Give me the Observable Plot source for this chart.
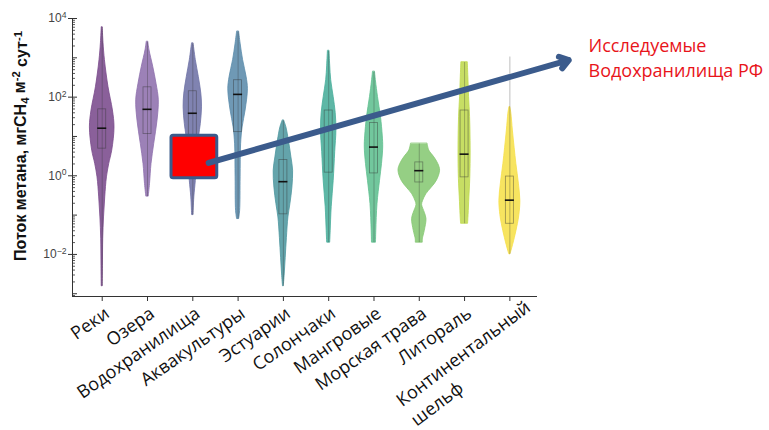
<!DOCTYPE html>
<html><head><meta charset="utf-8">
<script src="https://cdn.jsdelivr.net/npm/d3@7"></script>
<script src="https://cdn.jsdelivr.net/npm/@observablehq/plot@0.6"></script>
<style>body{margin:0;background:#fff}</style>
</head><body><div id="chart"></div>
<script>
// ---- data (log10 of flux, mg CH4 m-2 d-1) ----
const categories = ["Реки","Озера","Водохранилища","Аквакультуры","Эстуарии","Солончаки","Мангровые","Морская трава","Литораль","Континентальный\nшельф"];
const colors = ["#7a4a8c","#8e70ad","#6e72a6","#5b8bab","#4e979f","#48ad9a","#5fbf8f","#86c873","#bfd94e","#f6e04a"];
// violin profiles: [log10 flux, density (half-width)]
const rekiProfile = [[3.77,0.5],[3.37,1.3],[2.94,2.7],[2.25,6.3],[1.66,10.7],[1.23,12.3],[0.64,10],[0.3,7],[-0.04,4.7],[-0.55,3],[-1.06,1.8],[-1.6,1],[-2.3,0.7],[-2.81,0.5]];
const ozeraProfile = [[3.40,0.8],[3.19,2],[2.77,5.7],[2.34,9],[1.92,11.3],[1.40,10],[0.81,6.7],[0.3,4],[-0.21,2.5],[-0.53,1.2]];
const vodoProfile = [[3.36,0.8],[2.94,3],[2.51,6],[2.09,8.5],[1.74,9.2],[1.32,8],[1.0,6.3],[0.5,4.5],[-0.13,3],[-0.55,1.5],[-1.0,0.7]];
const akvaProfile = [[3.66,1],[3.36,2.5],[2.94,5],[2.51,8.5],[2.2,9.8],[1.66,7.5],[1.23,4.5],[0.8,3],[-0.04,2.5],[-0.9,2],[-1.1,1]];
const estuProfile = [[1.40,0.8],[1.23,3],[0.89,5.5],[0.47,8],[0.13,9.7],[-0.3,9],[-0.72,7],[-1.06,5],[-1.58,3.5],[-2.09,2.3],[-2.51,1.3],[-2.81,0.4]];
const solonProfile = [[3.17,0.8],[2.8,1.5],[2.43,2.5],[2.0,5],[1.6,7],[1.15,7.7],[0.6,6.5],[-0.13,5],[-0.8,3],[-1.4,2],[-1.7,1.5]];
const mangrProfile = [[2.64,1],[2.4,2],[2.0,4],[1.49,7],[1.0,8.8],[0.72,9.2],[0.3,8],[-0.13,6],[-0.72,3.5],[-1.4,2.3],[-1.7,2]];
const seagrassProfile = [[0.81,8.3],[0.64,10],[0.47,15],[0.3,19],[0.13,20.8],[-0.13,17.5],[-0.3,12.5],[-0.47,7],[-0.64,3.8],[-0.74,2.8],[-0.94,5.5],[-1.1,7.2],[-1.4,5.5],[-1.62,3.5],[-1.7,3.5]];
const litoralProfile = [[2.88,3.2],[2.5,3.8],[2.0,4.5],[1.5,5.5],[0.89,6],[0.3,6],[-0.2,5.5],[-0.55,4.8],[-1.0,4],[-1.22,3.5]];
const shelfProfile = [[1.74,0.5],[1.58,1.5],[1.15,3],[0.7,4.8],[0.3,6.5],[-0.2,9],[-0.64,10.5],[-1.0,9.5],[-1.23,8],[-1.58,5],[-1.92,1.5],[-2.0,0.5]];
const profiles = [rekiProfile, ozeraProfile, vodoProfile, akvaProfile, estuProfile, solonProfile, mangrProfile, seagrassProfile, litoralProfile, shelfProfile];
const boxQ1     = [0.69, 1.06, 1.02, 1.11, -0.98, 0.08, 0.06, -0.17, -0.04, -1.22];
const boxQ3     = [1.69, 2.25, 2.15, 2.43,  0.40, 1.66, 1.34,  0.34,  1.66, -0.02];
const boxMedian = [1.21, 1.69, 1.59, 2.07, -0.15, 1.20, 0.73,  0.13,  0.55, -0.62];
const whiskerLow  = [-2.81, -0.53, -1.0, -1.1, -2.81, -1.7, -1.7, -1.7, -1.22, -2.0];
const whiskerHigh = [ 3.77,  3.40, 3.36, 3.66,  1.40, 3.17, 2.64, 0.81,  2.88,  3.02];
const yLabelExp = [-2, 0, 2, 4];
const yDecadeExp = [-3, -2, -1, 0, 1, 2, 3, 4];
const noteText = "Исследуемые\nВодохранилища РФ";
// annotation (data units): highlighted box and arrow
const markBox = {x1: 1.53, x2: 2.54, y1: 10 ** -0.06, y2: 10 ** 1.02};
const markArrow = {x1: 2.35, y1: 10 ** 0.33, x2: 10.3, y2: 10 ** 2.94};

// ---- layout ----
const W = 769, H = 430, mL = 72, mR = 232, mT = 18, mB = 134;
const xDomain = [-0.656, 9.61];
const yDomain = [10 ** -3.07, 1e4];
const unitPx = (W - mL - mR) / (xDomain[1] - xDomain[0]);
const px = v => v / unitPx;

const idx = d3.range(categories.length);
const violinData = profiles.flatMap((p, i) => p.map(([lv, w]) => ({i, y: 10 ** lv, w})));
const stats = idx.map(i => ({i, q1: 10 ** boxQ1[i], q3: 10 ** boxQ3[i], med: 10 ** boxMedian[i], lo: 10 ** whiskerLow[i], hi: 10 ** whiskerHigh[i]}));
const minorTicks = [];
for (let e = -4; e <= 3; e++) for (let m = 2; m <= 9; m++) { const v = m * 10 ** e; if (v >= yDomain[0] && v <= yDomain[1]) minorTicks.push(v); }

const ruFont = "'Open Sans', 'Noto Sans', 'DejaVu Sans', sans-serif";
const rot = -35;

const svg = Plot.plot({
  width: W, height: H,
  marginLeft: mL, marginRight: mR, marginTop: mT, marginBottom: mB,
  style: {fontFamily: "'Liberation Sans', Arial, sans-serif", background: "#fff", overflow: "visible"},
  x: {type: "linear", domain: xDomain, axis: null},
  y: {type: "log", domain: yDomain, axis: null},
  marks: [
    Plot.areaX(violinData, {y: "y", x1: d => d.i - px(d.w), x2: d => d.i + px(d.w), z: "i",
      fill: d => colors[d.i], stroke: d => colors[d.i], strokeWidth: 0.8, fillOpacity: 0.88, curve: "catmull-rom"}),
    Plot.ruleX(stats, {x: "i", y1: "lo", y2: "hi", stroke: "#333", strokeOpacity: 0.45, strokeWidth: 0.7}),
    Plot.rect(stats, {x1: d => d.i - px(4), x2: d => d.i + px(4), y1: "q1", y2: "q3", fill: "none", stroke: "#333", strokeOpacity: 0.5, strokeWidth: 0.8}),
    Plot.ruleY(stats, {y: "med", x1: d => d.i - px(4.5), x2: d => d.i + px(4.5), stroke: "#111", strokeWidth: 1.6}),
    // axes
    Plot.ruleX([xDomain[0]], {stroke: "#333", strokeWidth: 1}),
    Plot.ruleY([yDomain[0]], {stroke: "#333", strokeWidth: 1}),
    Plot.axisX({ticks: idx, tickSize: 5, tickFormat: () => "", label: null, stroke: "#333"}),
    Plot.axisY({ticks: yLabelExp.map(e => 10 ** e), tickSize: 4, tickPadding: 2, tickFormat: d => "10^" + Math.round(Math.log10(d)),
      label: null, fontSize: 12, fill: "#444", stroke: "#333"}),
    Plot.axisY({ticks: yDecadeExp.map(e => 10 ** e), tickSize: 5, dx: 5, tickFormat: () => "", label: null, stroke: "#333"}),
    Plot.axisY({ticks: minorTicks, tickSize: 3, dx: 3, tickFormat: () => "", label: null, stroke: "#333", strokeOpacity: 0.8}),
    // category labels
    Plot.text(idx.slice(0, 9), {x: d => d, text: d => categories[d], frameAnchor: "bottom", dx: 5, dy: 15,
      rotate: rot, textAnchor: "end", lineAnchor: "middle", fontSize: 18, fontFamily: ruFont, fill: "#111"}),
    Plot.text([9], {x: d => d, text: d => categories[d], frameAnchor: "bottom", dx: -118, dy: 97,
      rotate: -37, textAnchor: "start", lineAnchor: "top", lineHeight: 1.35, fontSize: 18, fontFamily: ruFont, fill: "#111"}),
    // annotation
    Plot.rect([markBox], {x1: "x1", x2: "x2", y1: "y1", y2: "y2", fill: "#ff0000", stroke: "#3b5b8c", strokeWidth: 3, rx: 2}),
    Plot.arrow([markArrow], {x1: "x1", y1: "y1", x2: "x2", y2: "y2", stroke: "#3b5b8c", strokeWidth: 6, headLength: 2.6, headAngle: 70}),
    Plot.text([noteText], {frameAnchor: "top-right", dx: 51, dy: 16, textAnchor: "start", lineAnchor: "top",
      lineHeight: 1.39, fontSize: 18, fontFamily: ruFont, fill: "#e8141a"})
  ]
});

// superscript exponents in y tick labels
d3.select(svg).selectAll("text").each(function() {
  const t = this.textContent;
  const m = /^10\^(-?\d+)$/.exec(t);
  if (m) {
    const s = d3.select(this);
    s.text("10");
    s.append("tspan").attr("dy", "-0.5em").attr("font-size", "0.72em").text(m[1].replace("-", "\u2212"));
  }
});

// y axis title with sub/superscripts
const yt = d3.select(svg).append("text")
  .attr("transform", "translate(26,146) rotate(-90)")
  .attr("text-anchor", "middle")
  .attr("font-family", "'Liberation Sans', Arial, sans-serif")
  .attr("font-weight", "bold").attr("font-size", 16).attr("fill", "#111");
yt.append("tspan").text("Поток метана, мгCH");
yt.append("tspan").attr("dy", "0.3em").attr("font-size", "0.7em").text("4");
yt.append("tspan").attr("dy", "-0.3em").text(" м");
yt.append("tspan").attr("dy", "-0.45em").attr("font-size", "0.7em").text("-2");
yt.append("tspan").attr("dy", "0.45em").text(" сут");
yt.append("tspan").attr("dy", "-0.45em").attr("font-size", "0.7em").text("-1");

document.getElementById("chart").appendChild(svg);
</script>
</body></html>
